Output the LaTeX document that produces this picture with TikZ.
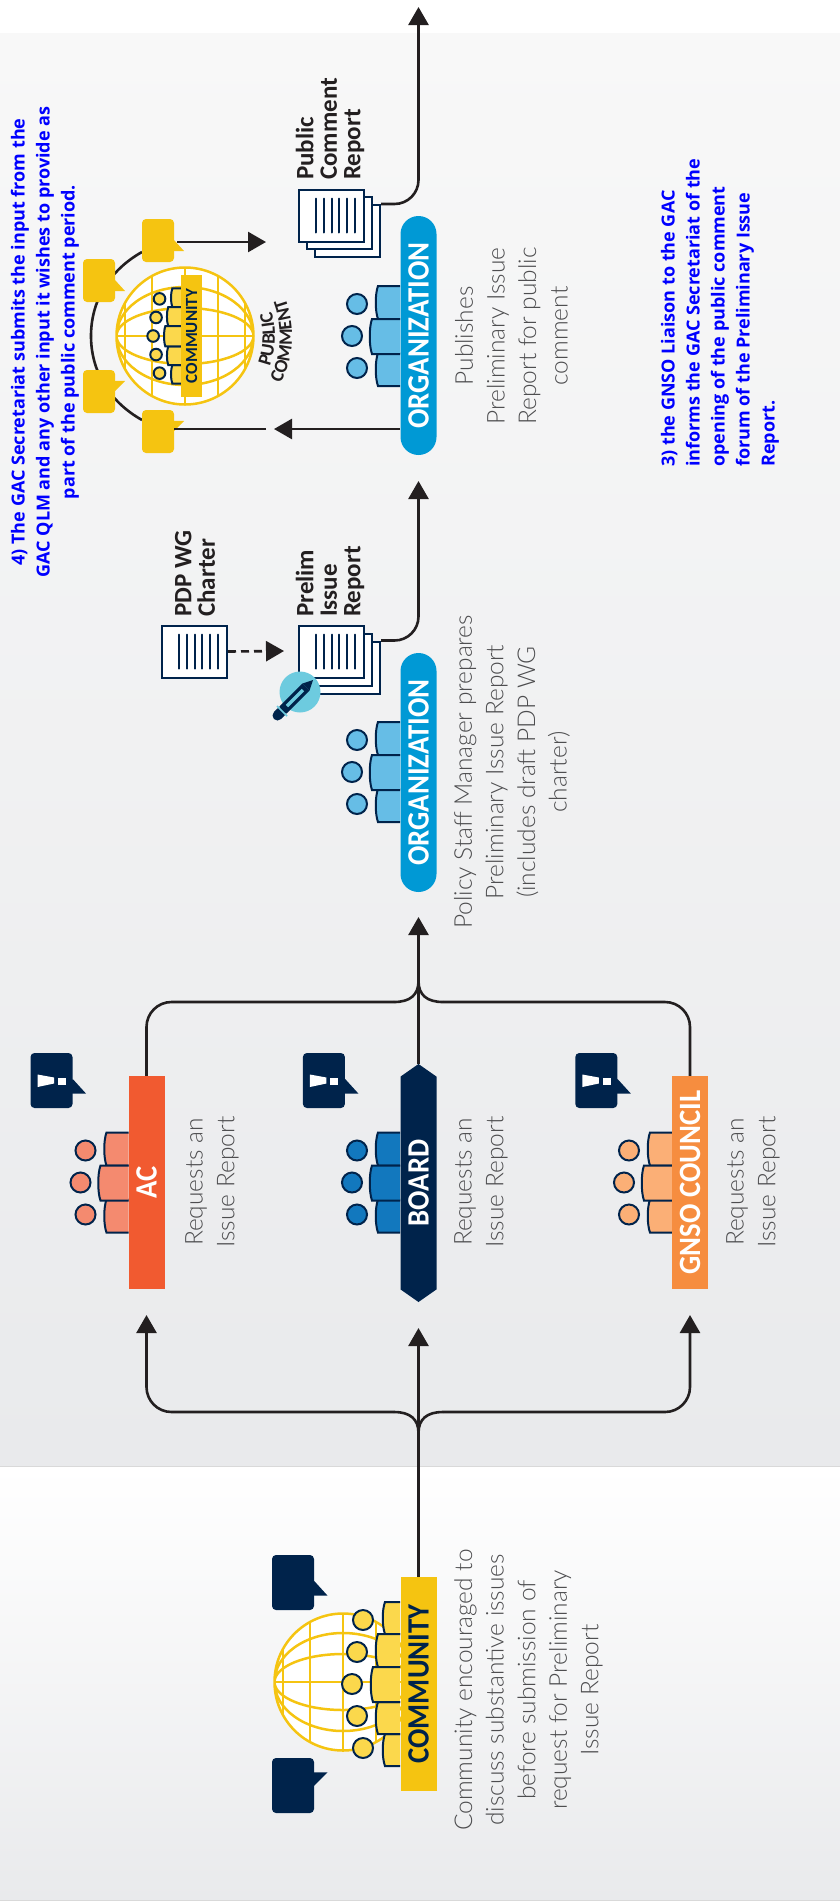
\documentclass[tikz,border=0pt]{standalone}
\usepackage{fontspec}
\newfontfamily\lightfamily{Lato Light}
\newfontfamily\barfamily{Carlito}
\newfontfamily\notefamily{Open Sans}
\usepackage{xcolor}
\usepackage{tikz}
\usetikzlibrary{arrows.meta,positioning,shapes.misc,shapes.symbols,decorations.text,calc}
\definecolor{navy}{HTML}{00234B}
\definecolor{ink}{HTML}{231F20}
\definecolor{descgray}{HTML}{4D4D4F}
\definecolor{pillblue}{HTML}{0099D5}
\definecolor{orgbody}{HTML}{66BDE6}
\definecolor{gold}{HTML}{F5C411}
\definecolor{goldbody}{HTML}{FBD84C}
\definecolor{acred}{HTML}{F15A30}
\definecolor{acbody}{HTML}{F48A6F}
\definecolor{boardbody}{HTML}{1278BE}
\definecolor{gnsoorange}{HTML}{F68D3F}
\definecolor{gnsobody}{HTML}{FBAF76}
\definecolor{pencilbg}{HTML}{6DCBDF}
\definecolor{bandtop}{HTML}{F8F8F8}
\definecolor{bandbottom}{HTML}{E9EAEC}
\newcommand\barlabel[1]{\scalebox{0.925}[1]{#1}}
\newcommand\torso[3]{\draw [fill=\crowdfill, line width=2pt, draw=navy] (0,#2) -- (#1+3,#2) .. controls (#1,#2+8) and (#1,#3-8) .. (#1+3,#3) -- (0,#3);}
\newcommand\heads[2]{\draw [fill=\crowdfill, line width=2pt, draw=navy] (#1,#2) circle[radius=10];}
\newcommand\crowdthree[3]{\def\crowdfill{#3}
  \begin{scope}[shift={(#1,#2)}]
    \torso{-25}{-50}{-17}\torso{-25}{17}{50}\torso{-31}{-17}{18}
    \heads{-43}{-32}\heads{-48}{0}\heads{-43}{32}
  \end{scope}}
\newcommand\crowdfive[4]{\def\crowdfill{#3}
  \begin{scope}[shift={(#1,#2)},scale=#4]
    \torso{-18}{-82}{-50}\torso{-18}{50}{82}\torso{-25}{-50}{-17}\torso{-25}{18}{50}\torso{-30}{-17}{18}
    \heads{-37}{-64}\heads{-43}{-32}\heads{-48}{0}\heads{-43}{32}\heads{-37}{64}
  \end{scope}}
\newcommand\globe[3]{\node [circle, draw=gold, fill=white, line width=2.5pt, minimum size=137pt, inner sep=0pt] (#1) at (#2,#3) {};
  \begin{scope}
    \clip (#2,#3) circle (68.5pt);
    \draw [gold, line width=2.5pt] (#2,#3) ellipse [x radius=68.5pt, y radius=28pt] (#2,#3) ellipse [x radius=68.5pt, y radius=49pt];
    \draw [gold, line width=2.5pt] (#2-70,#3) -- (#2+70,#3);
    \foreach \dx in {-60,-33,0,33,60}
      \draw [gold, line width=2.5pt] (#2+\dx,#3-70) -- (#2+\dx,#3+70);
  \end{scope}}
\newcommand\sheetlines[1]{\foreach \i in {0,...,5}
    \draw [navy, line width=2pt, line cap=round] ($(#1)+(-15.5+7.8*\i,-17)$) -- ($(#1)+(-15.5+7.8*\i,17)$);}
\newcommand\tailtop[3]{\fill [#2] (#1.south east) ++(0,-22*#3) -- ++(10*#3,11*#3) -- ++(-14*#3,0) -- cycle;}
\newcommand\tailbottom[3]{\fill [#2] (#1.north east) ++(-4*#3,11*#3) -- ++(14*#3,0) -- ++(-10*#3,10*#3) -- cycle;}
\newcommand\alertmark[1]{\fill [white] ($(#1)+(-14,-6)$) -- ($(#1)+(2.5,-3)$) -- ($(#1)+(2.5,3)$) -- ($(#1)+(-14,6.5)$) -- cycle;
  \fill [white] ($(#1)+(6.5,-3)$) rectangle ($(#1)+(14.5,4)$);}

\begin{document}
\begin{tikzpicture}[x=1pt,y=-1pt]
        \tikzstyle{flow} = [line width=2.6pt, draw=ink, -{Triangle[length=18pt,width=20pt]}]
        \tikzstyle{link} = [line width=2.6pt, draw=ink]
        \tikzstyle{bar} = [rectangle, rotate=90, minimum width=213pt, minimum height=36pt, inner sep=0pt, text=white, font=\barfamily\bfseries\fontsize{31}{32}\selectfont]
        \tikzstyle{pill} = [bar, rounded rectangle, fill=pillblue, minimum width=239pt]
        \tikzstyle{sheet} = [draw=navy, fill=white, line width=2pt, minimum width=65pt, minimum height=52pt, inner sep=0pt]
        \tikzstyle{desc} = [rotate=90, align=center, text=descgray, inner sep=0pt, font=\lightfamily\fontsize{24.5}{31.6}\selectfont]
        \tikzstyle{doclabel} = [rotate=90, align=left, anchor=west, text=ink, inner sep=0pt, font=\barfamily\bfseries\fontsize{25}{23.5}\selectfont]
        \tikzstyle{note} = [rotate=90, text=blue, inner sep=0pt, font=\notefamily\bfseries\fontsize{18}{25}\selectfont]
        \tikzstyle{goldbubble} = [fill=gold, rounded corners=4pt, minimum width=32pt, minimum height=43pt, inner sep=0pt]
        \tikzstyle{navybubble} = [fill=navy, rounded corners=4pt, minimum width=42pt, minimum height=55pt, inner sep=0pt]

        \useasboundingbox (0,0) rectangle (840,1904);
        \fill [white] (0,0) rectangle (840,1904);
        \shade [top color=bandtop, bottom color=bandbottom] (0,33) rectangle (840,1466);
        \shade [top color=white, bottom color=bandbottom] (0,1467) rectangle (840,1900);
        \draw [black!15, line width=1.5pt] (0,1466.5) -- (840,1466.5);
        \draw [black!15, line width=1.5pt] (0,1900.5) -- (840,1900.5);

        \coordinate (toptip) at (418.5,7);
        \coordinate (onetip) at (418.5,481);
        \coordinate (twotip) at (418.5,917);
        \coordinate (mergetop) at (418.5,981);
        \coordinate (mergeleft) at (394,1002);
        \coordinate (mergeright) at (443,1002);
        \coordinate (acin) at (146.5,1315);
        \coordinate (boardin) at (418.5,1328);
        \coordinate (gnsoin) at (690,1315);
        \coordinate (splitpoint) at (418.5,1433);
        \coordinate (splitleft) at (394,1412);
        \coordinate (splitright) at (443,1412);

        \crowdthree{128.5}{1182.5}{acbody}
        \crowdthree{400}{1182.5}{boardbody}
        \crowdthree{672}{1182.5}{gnsobody}
        \crowdthree{400}{772}{orgbody}
        \crowdthree{400}{336}{orgbody}
        \globe{bigglobe}{343}{1682}
        \crowdfive{400}{1684}{goldbody}{1}

        \node [bar, fill=gold, text=navy, minimum width=214pt] (community) at (418.5,1684) {\barlabel{COMMUNITY}};
        \node [bar, fill=acred] (acbar) at (146.5,1182.5) {\barlabel{AC}};
        \node [bar, signal, signal to=east and west, signal pointer angle=110, fill=navy, minimum width=238pt] (board) at (418.5,1183) {\barlabel{BOARD}};
        \node [bar, fill=gnsoorange] (gnso) at (690,1182.5) {\barlabel{GNSO COUNCIL}};
        \node [pill] (orgtwo) at (418.5,772.5) {\barlabel{ORGANIZATION}};
        \node [pill] (orgone) at (418.5,335.5) {\barlabel{ORGANIZATION}};
        \coordinate (orgoneout) at (400,429);

        \draw [link, rounded corners=25pt] (acbar.east) |- (mergeleft);
        \draw [link] (mergeleft) .. controls +(16,0) and +(0,14) .. (mergetop);
        \draw [link, rounded corners=25pt] (gnso.east) |- (mergeright);
        \draw [link] (mergeright) .. controls +(-16,0) and +(0,14) .. (mergetop);
        \draw [flow] (board.east) -- (twotip);
        \draw [flow] (community.east) -- (boardin);
        \draw [link] (splitpoint) .. controls +(0,-14) and +(16,0) .. (splitleft);
        \draw [link] (splitpoint) .. controls +(0,-14) and +(-16,0) .. (splitright);
        \draw [flow, rounded corners=25pt] (splitleft) -| (acin);
        \draw [flow, rounded corners=25pt] (splitright) -| (gnsoin);

        \node [navybubble] (alertac) at (51.5,1080.5) {};
        \node [navybubble, right = 230pt of alertac] (alertboard) {};
        \node [navybubble, right = 230pt of alertboard] (alertgnso) {};
        \tailtop{alertac}{navy}{1.33}\tailtop{alertboard}{navy}{1.33}\tailtop{alertgnso}{navy}{1.33}
        \alertmark{alertac}\alertmark{alertboard}\alertmark{alertgnso}
        \node [navybubble] (talkup) at (293,1582.5) {};
        \node [navybubble] (talkdown) at (293,1785.5) {};
        \tailtop{talkup}{navy}{1.33}
        \tailbottom{talkdown}{navy}{1.33}

        \node [sheet] (prelimc) at (347.5,667.5) {};
        \node [sheet] (prelimb) at (339.5,659.5) {};
        \node [sheet] (prelim) at (331.5,651.5) {};
        \sheetlines{prelim}
        \node [sheet, left = 70pt of prelim] (charter) {};
        \sheetlines{charter}
        \draw [line width=2.6pt, draw=ink, dash pattern=on 8pt off 5pt, -{Triangle[length=18pt,width=20pt]}] (charter.east) -- (284,651);
        \draw [flow, rounded corners=24pt] (prelimc.north east) -| (onetip);
        \node [circle, fill=pencilbg, minimum size=41pt, inner sep=0pt] (pencilmark) at (300,692) {};
        \fill [navy] (313,680) -- (309.5,690.5) -- (302.5,683.5) -- cycle;
        \draw [navy, line width=10pt] (306,687) -- (283,710);
        \draw [pencilbg, line width=3.5pt] (303,690) -- (287,706);
        \draw [navy, line width=10pt, line cap=round] (281,712) -- (277.5,715.5);
        \draw [pencilbg, line width=1.5pt] (277,706) -- (287,716);

        \node [sheet] (pcc) at (347.5,231) {};
        \node [sheet] (pcb) at (339.5,223) {};
        \node [sheet] (pcreport) at (331.5,215.5) {};
        \sheetlines{pcreport}
        \draw [flow, rounded corners=24pt] (pcc.north east) -| (toptip);

        \node [doclabel] (pclabel) at (330,180) {Public\\Comment\\Report};
        \node [doclabel] (charterlabel) at (195,617) {PDP WG\\Charter};
        \node [doclabel] (prelimlabel) at (330,617) {Prelim\\Issue\\Report};

        \draw [link] (91,336) .. controls (91,300) and (110,270) .. (142,252);
        \draw [link] (91,336) .. controls (91,372) and (110,402) .. (142,420);
        \node [goldbubble] (pubone) at (158,240.5) {};
        \node [goldbubble] (pubtwo) at (99,280.5) {};
        \node [goldbubble] (pubthree) at (99,391.5) {};
        \node [goldbubble] (pubfour) at (158,431.5) {};
        \tailtop{pubone}{gold}{1}\tailtop{pubtwo}{gold}{1}
        \tailbottom{pubthree}{gold}{1}\tailbottom{pubfour}{gold}{1}
        \draw [flow] (pubone.east) ++(3,1.5) -- (266,242);
        \draw [flow] (orgoneout) -- (274,429);
        \draw [link] (266,429) -- (pubfour.east |- 0,429);

        \globe{smallglobe}{185}{336}
        \crowdfive{181}{336}{goldbody}{0.58}
        \node [rectangle, rotate=90, fill=gold, minimum width=122pt, minimum height=21pt, inner sep=0pt, text=navy, font=\barfamily\bfseries\fontsize{17}{18}\selectfont] (smallbar) at (191.5,336) {COMMUNITY};
        \path [decorate, decoration={text along path, text align=center, text={|\barfamily\bfseries\fontsize{19}{19}\selectfont\color{ink}|PUBLIC}}] (185,336) ++(-47:90pt) arc [start angle=-47, end angle=43, radius=90pt];
        \path [decorate, decoration={text along path, text align=center, text={|\barfamily\bfseries\fontsize{19}{19}\selectfont\color{ink}|COMMENT}}] (185,336) ++(-48:107pt) arc [start angle=-48, end angle=42, radius=107pt];

        \node [desc] (communitytext) at (528.5,1690) {Community encouraged to\\discuss substantive issues\\before submission of\\request for Preliminary\\Issue Report};
        \node [desc] (actext) at (212,1182) {Requests an\\Issue Report};
        \node [desc] (boardtext) at (481,1182) {Requests an\\Issue Report};
        \node [desc] (gnsotext) at (753,1182) {Requests an\\Issue Report};
        \node [desc] (orgtwotext) at (512,772) {Policy Staff Manager prepares\\Preliminary Issue Report\\(includes draft PDP WG\\charter)};
        \node [desc] (orgonetext) at (511.5,336) {Publishes\\Preliminary Issue\\Report for public\\comment};

        \node [note, align=center] (notefour) at (45,342) {4) The GAC Secretariat submits the input from the\\GAC QLM and any other input it wishes to provide as\\part of the public comment period.};
        \node [note, align=left, anchor=west] (notethree) at (720,467) {3) the GNSO Liaison to the GAC\\informs the GAC Secretariat of the\\opening of the public comment\\forum of the Preliminary Issue\\Report.};
\end{tikzpicture}
\end{document}
